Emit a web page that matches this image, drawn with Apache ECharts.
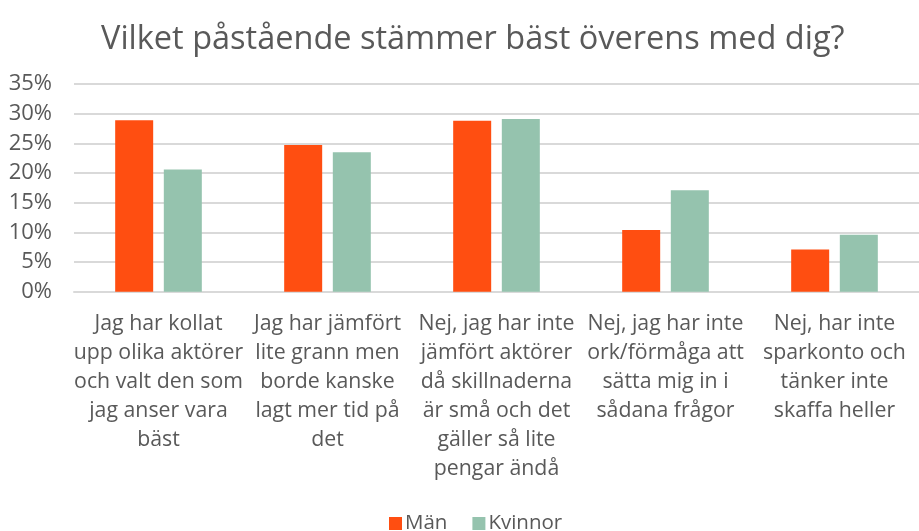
<!DOCTYPE html>
<html>
<head>
<meta charset="utf-8">
<script src="https://cdn.jsdelivr.net/npm/echarts@6/dist/echarts.min.js"></script>
<style>html,body{margin:0;padding:0;background:#fff}#c{width:919px;height:531px}</style>
</head>
<body>
<div id="c"></div>
<script>
const categories = [
  "Jag har kollat\nupp olika aktörer\noch valt den som\njag anser vara\nbäst",
  "Jag har jämfört\nlite grann men\nborde kanske\nlagt mer tid på\ndet",
  "Nej, jag har inte\njämfört aktörer\ndå skillnaderna\när små och det\ngäller så lite\npengar ändå",
  "Nej, jag har inte\nork/förmåga att\nsätta mig in i\nsådana frågor",
  "Nej, har inte\nsparkonto och\ntänker inte\nskaffa heller"
];
const man = [28.9, 24.7, 28.8, 10.4, 7.1];
const kvinnor = [20.6, 23.5, 29.1, 17.1, 9.6];
const seriesNames = ["Män", "Kvinnor"];
const yTicks = [0, 5, 10, 15, 20, 25, 30, 35];

const FONT = "Open Sans";
const TXT = "#595959";
const chart = echarts.init(document.getElementById('c'), null, {renderer: 'canvas'});
chart.setOption({
  animation: false,
  backgroundColor: '#fff',
  title: {
    text: "Vilket påstående stämmer bäst överens med dig?",
    left: 96, top: 18,
    textStyle: {fontFamily: FONT, fontSize: 32.5, fontWeight: 'normal', color: TXT}
  },
  legend: {
    data: seriesNames,
    bottom: -8, left: 384,
    itemWidth: 13, itemHeight: 13, itemGap: 25,
    icon: 'rect',
    textStyle: {fontFamily: FONT, fontSize: 20.5, color: TXT, padding: [0, 0, 0, -2]}
  },
  grid: {left: 74, right: -7, top: 84, bottom: 239.3, containLabel: false},
  xAxis: {
    type: 'category',
    data: categories,
    axisLine: {show: true, lineStyle: {color: '#d9d9d9', width: 2}},
    axisTick: {show: false},
    axisLabel: {
      interval: 0, margin: 18,
      fontFamily: FONT, fontSize: 21.3, color: TXT, lineHeight: 29
    }
  },
  yAxis: {
    type: 'value',
    min: yTicks[0], max: yTicks[yTicks.length - 1], interval: 5,
    axisLine: {show: false},
    axisTick: {show: false},
    splitLine: {lineStyle: {color: '#d9d9d9', width: 2}},
    axisLabel: {
      formatter: v => v + '%',
      margin: 22,
      fontFamily: FONT, fontSize: 22, color: TXT
    }
  },
  series: [
    {name: seriesNames[0], type: 'bar', data: man, barWidth: 38, barGap: '28%',
     itemStyle: {color: '#FF4E11'}},
    {name: seriesNames[1], type: 'bar', data: kvinnor, barWidth: 38,
     itemStyle: {color: '#95C3AE'}}
  ]
});
</script>
</body>
</html>
